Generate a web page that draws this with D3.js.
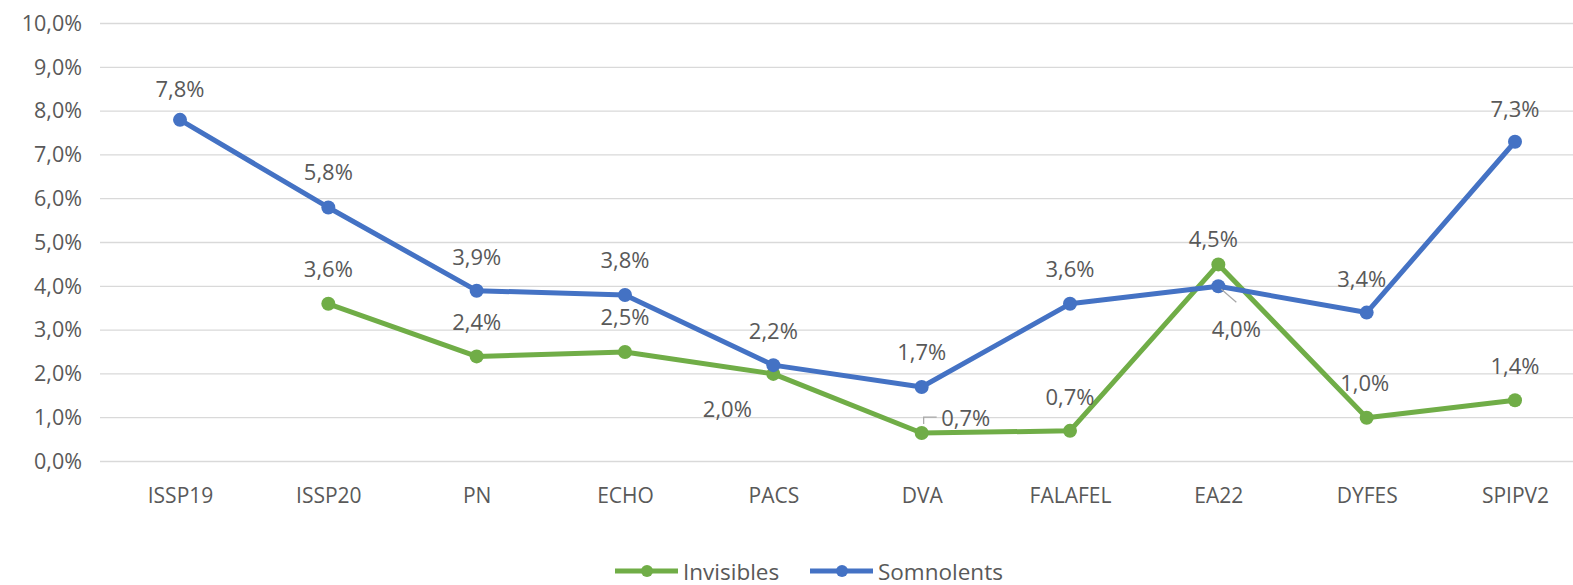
<!DOCTYPE html>
<html>
<head>
<meta charset="utf-8">
<script src="https://cdn.jsdelivr.net/npm/d3@7"></script>
<style>
html,body{margin:0;padding:0;background:#fff;}
svg{display:block;font-family:"Open Sans","Noto Sans",sans-serif;}
</style>
</head>
<body>
<svg id="chart" width="1573" height="585"></svg>
<script>
const categories = ["ISSP19","ISSP20","PN","ECHO","PACS","DVA","FALAFEL","EA22","DYFES","SPIPV2"];
const invisibles = [null, 3.6, 2.4, 2.5, 2.0, 0.65, 0.7, 4.5, 1.0, 1.4];
const invisiblesLabels = [null, "3,6%", "2,4%", "2,5%", "2,0%", "0,7%", "0,7%", "4,5%", "1,0%", "1,4%"];
const somnolents = [7.8, 5.8, 3.9, 3.8, 2.2, 1.7, 3.6, 4.0, 3.4, 7.3];
const somnolentsLabels = ["7,8%", "5,8%", "3,9%", "3,8%", "2,2%", "1,7%", "3,6%", "4,0%", "3,4%", "7,3%"];
const yTicks = [0,1,2,3,4,5,6,7,8,9,10];

// label placement (style): dx, dy relative to point
const invOffsets = [null,[0,-36],[0,-35],[0,-36],[-46,34],[44,-16],[0,-35],[-5,-26],[-2,-36],[0,-35]];
const somOffsets = [[0,-32],[0,-36],[0,-35],[0,-36],[0,-35],[0,-36],[0,-36],[18,42],[-5,-35],[0,-34]];

const svg = d3.select("#chart");
const colInv = "#70AD47", colSom = "#4472C4", txt = "#595959";
const fontFam = "'Open Sans','Noto Sans',sans-serif";

const x = d3.scalePoint().domain(categories).range([180, 1515]);
const y = d3.scaleLinear().domain([0, 10]).range([461.5, 23.5]);

// gridlines
svg.append("g").selectAll("line").data(yTicks).join("line")
  .attr("x1", 100).attr("x2", 1573)
  .attr("y1", d => y(d)).attr("y2", d => y(d))
  .attr("stroke", "#d9d9d9").attr("stroke-width", 1.3);

// y axis
const yAxis = d3.axisLeft(y).tickValues(yTicks).tickSize(0).tickPadding(0)
  .tickFormat(d => d3.format(".1f")(d).replace(".", ",") + "%");
const gy = svg.append("g").attr("transform", "translate(82,0)").call(yAxis);
gy.select(".domain").remove();
gy.selectAll("text").attr("fill", txt).style("font-size", "21.5px").style("font-family", fontFam);

// x axis
const xAxis = d3.axisBottom(x).tickSize(0).tickPadding(0);
const gx = svg.append("g").attr("transform", "translate(0,488)").call(xAxis);
gx.select(".domain").remove();
gx.selectAll("text").attr("fill", txt).style("font-size", "21px").style("font-family", fontFam);

const line = d3.line().defined(d => d.v != null).x(d => x(d.c)).y(d => y(d.v));

function drawSeries(vals, color) {
  const data = categories.map((c, i) => ({c, v: vals[i]}));
  svg.append("path").datum(data).attr("d", line)
    .attr("fill", "none").attr("stroke", color).attr("stroke-width", 5)
    .attr("stroke-linejoin", "round").attr("stroke-linecap", "round");
  svg.append("g").selectAll("circle").data(data.filter(d => d.v != null)).join("circle")
    .attr("cx", d => x(d.c)).attr("cy", d => y(d.v)).attr("r", 7).attr("fill", color);
}
drawSeries(invisibles, colInv);
drawSeries(somnolents, colSom);

// leader lines
const lead = svg.append("g").attr("stroke", "#a6a6a6").attr("stroke-width", 1.2).attr("fill", "none");
lead.append("path").attr("d", `M${x("DVA")+2},${y(invisibles[5])-9} V${y(invisibles[5])-16} H${x("DVA")+15}`);
lead.append("path").attr("d", `M${x("EA22")+3},${y(somnolents[7])+3} L${x("EA22")+18},${y(somnolents[7])+16}`);

function drawLabels(vals, labels, offs) {
  svg.append("g").selectAll("text").data(categories.map((c, i) => ({c, v: vals[i], l: labels[i], o: offs[i]})).filter(d => d.v != null))
    .join("text")
    .attr("x", d => x(d.c) + d.o[0]).attr("y", d => y(d.v) + d.o[1])
    .attr("text-anchor", "middle").attr("dominant-baseline", "central")
    .attr("fill", txt).style("font-size", "22px").text(d => d.l);
}
drawLabels(somnolents, somnolentsLabels, somOffsets);
drawLabels(invisibles, invisiblesLabels, invOffsets);

// legend
const legend = [{name: "Invisibles", color: colInv, x0: 615}, {name: "Somnolents", color: colSom, x0: 810}];
const lg = svg.append("g");
legend.forEach(l => {
  lg.append("line").attr("x1", l.x0).attr("x2", l.x0 + 63).attr("y1", 571).attr("y2", 571)
    .attr("stroke", l.color).attr("stroke-width", 5);
  lg.append("circle").attr("cx", l.x0 + 32).attr("cy", 571).attr("r", 6).attr("fill", l.color);
  lg.append("text").attr("x", l.x0 + 68).attr("y", 571).attr("dominant-baseline", "central")
    .attr("fill", txt).style("font-size", "22.5px").text(l.name);
});
</script>
</body>
</html>
